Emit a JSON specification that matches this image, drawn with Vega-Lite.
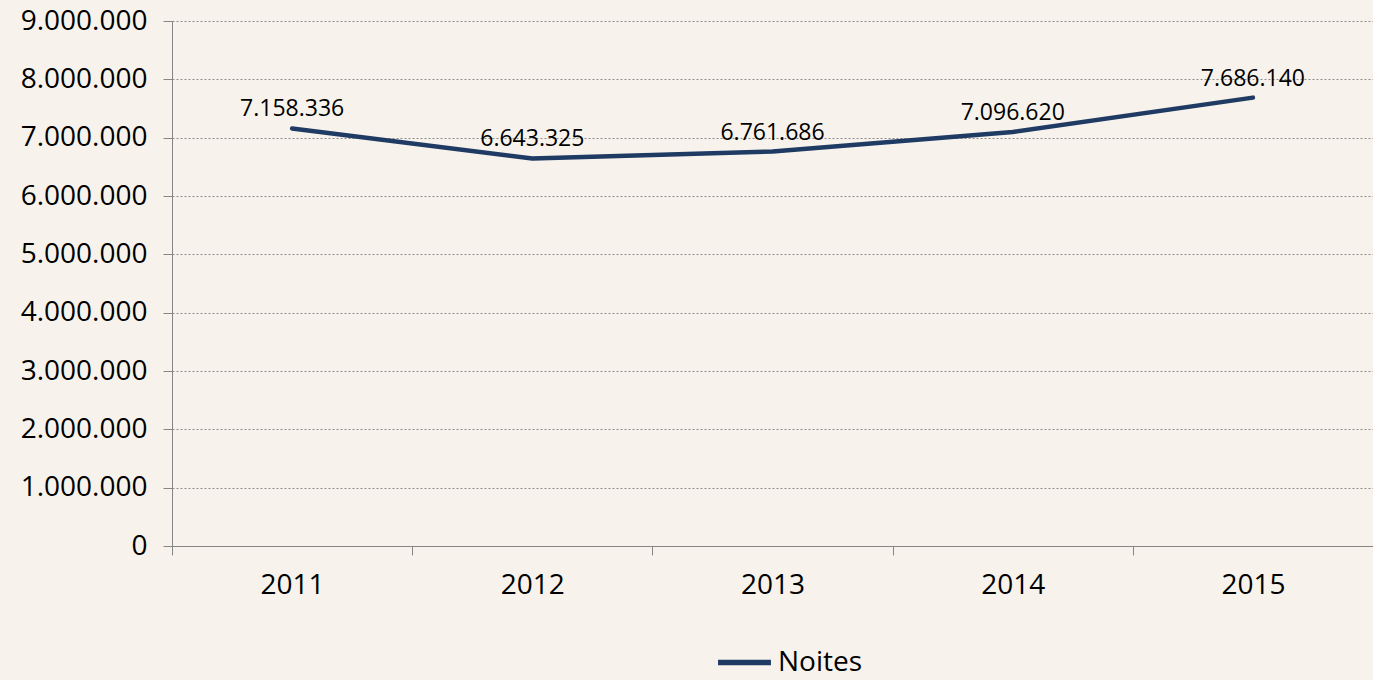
{
  "$schema": "https://vega.github.io/schema/vega-lite/v6.json",
  "width": 1201,
  "height": 525,
  "autosize": {"type": "none"},
  "padding": {"left": 172, "top": 21, "right": 0, "bottom": 134},
  "background": "#F7F3EC",
  "config": {
    "font": "Open Sans",
    "view": {"stroke": null},
    "locale": {"number": {"decimal": ",", "thousands": ".", "grouping": [3], "currency": ["R$", ""]}}
  },
  "data": {
    "values": [
      {"ano": "2011", "noites": 7158336, "serie": "Noites"},
      {"ano": "2012", "noites": 6643325, "serie": "Noites"},
      {"ano": "2013", "noites": 6761686, "serie": "Noites"},
      {"ano": "2014", "noites": 7096620, "serie": "Noites"},
      {"ano": "2015", "noites": 7686140, "serie": "Noites"}
    ]
  },
  "encoding": {
    "x": {
      "field": "ano",
      "type": "ordinal",
      "title": null,
      "scale": {"paddingInner": 0, "paddingOuter": 0},
      "axis": {
        "labelAngle": 0,
        "labelFontSize": 28,
        "labelColor": "#000000",
        "labelPadding": 16,
        "tickBand": "extent",
        "tickSize": 9,
        "tickColor": "#868686",
        "domainColor": "#868686",
        "grid": false
      }
    },
    "y": {
      "field": "noites",
      "type": "quantitative",
      "title": null,
      "scale": {"domain": [0, 9000000], "nice": false},
      "axis": {
        "values": [0, 1000000, 2000000, 3000000, 4000000, 5000000, 6000000, 7000000, 8000000, 9000000],
        "format": ",d",
        "labelFontSize": 28,
        "labelColor": "#000000",
        "labelPadding": 16,
        "tickSize": 9,
        "tickColor": "#868686",
        "domainColor": "#868686",
        "grid": true,
        "gridColor": "#8C8C8C",
        "gridDash": [2, 2],
        "gridWidth": 1
      }
    }
  },
  "layer": [
    {
      "mark": {"type": "line", "interpolate": "linear", "strokeWidth": 4.5, "strokeCap": "round", "strokeJoin": "round"},
      "encoding": {
        "color": {
          "field": "serie",
          "type": "nominal",
          "scale": {"range": ["#1F3A63"]},
          "legend": {
            "title": null,
            "orient": "none",
            "legendX": 543,
            "legendY": 612,
            "symbolType": "stroke",
            "symbolSize": 2800,
            "symbolStrokeWidth": 5.5,
            "labelFontSize": 28,
            "labelColor": "#000000",
            "labelOffset": 4
          }
        }
      }
    },
    {
      "mark": {"type": "text", "dy": -19, "baseline": "middle", "fontSize": 23, "color": "#000000"},
      "encoding": {
        "text": {"field": "noites", "type": "quantitative", "format": ",d"}
      }
    }
  ]
}
